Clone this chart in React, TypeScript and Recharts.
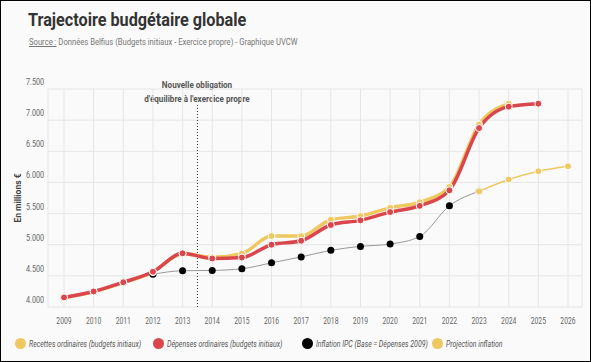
import React from 'react';
import { LineChart, Line, XAxis, YAxis, CartesianGrid, ReferenceLine } from 'recharts';

const years = [2009, 2010, 2011, 2012, 2013, 2014, 2015, 2016, 2017, 2018, 2019, 2020, 2021, 2022, 2023, 2024, 2025, 2026];
const recettes = [4150, 4245, 4390, 4560, 4855, 4800, 4857, 5138, 5138, 5402, 5460, 5592, 5682, 5926, 6931, 7264, null, null];
const depenses = [4154, 4249, 4397, 4566, 4862, 4778, 4794, 5000, 5063, 5317, 5391, 5524, 5624, 5873, 6873, 7217, 7264, null];
const inflation = [4154, 4249, 4397, 4524, 4582, 4587, 4614, 4709, 4804, 4910, 4973, 5011, 5132, 5624, 5857, null, null, null];
const projection = [null, null, null, null, null, null, null, null, null, null, null, null, null, null, 5857, 6047, 6179, 6259];
const yTicks = [4000, 4500, 5000, 5500, 6000, 6500, 7000, 7500];

const data = years.map((year, i) => ({
    year,
    recettes: recettes[i],
    depenses: depenses[i],
    inflation: inflation[i],
    projection: projection[i],
}));

const YELLOW = '#EFC862';
const RED = '#D9474D';
const FONT = 'Roboto, sans-serif';

const legendItems = [
    { color: YELLOW, label: 'Recettes ordinaires (budgets initiaux)', x: 14 },
    { color: RED, label: 'Dépenses ordinaires (budgets initiaux)', x: 152 },
    { color: '#000', label: 'Inflation IPC (Base = Dépenses 2009)', x: 301 },
    { color: YELLOW, label: 'Projection inflation', x: 431 },
];

const fmt = (v: number) => {
    const s = String(v);
    return s.slice(0, 1) + '.' + s.slice(1);
};

// y labels sit left-aligned above their grid line
const YTick = (props: any) => {
    const { y, payload } = props;
    return (
        <text x={25} y={y - 4} fontSize={8.5} fill="#666" fontFamily={FONT} transform={`translate(25 0) scale(0.85 1) translate(-25 0)`}>
            {fmt(payload.value)}
        </text>
    );
};

const XTick = (props: any) => {
    const { x, y, payload } = props;
    return (
        <text x={0} y={0} fontSize={8.5} fill="#666" fontFamily={FONT} textAnchor="middle" transform={`translate(${x} ${y + 9}) scale(0.8 1)`}>
            {payload.value}
        </text>
    );
};

export default function App() {
    return (
        <div style={{ position: 'absolute', left: 0, top: 0, width: 591, height: 362, boxSizing: 'border-box', border: '1px solid #000', background: '#fafafa', fontFamily: FONT, overflow: 'hidden' }}>
            <div style={{ position: 'absolute', left: 27, top: 8, fontSize: 18, fontWeight: 700, color: '#333', whiteSpace: 'nowrap', transform: 'scaleX(0.9)', transformOrigin: 'left' }}>
                Trajectoire budgétaire globale
            </div>
            <div style={{ position: 'absolute', left: 28, top: 36, fontSize: 8.5, color: '#777', whiteSpace: 'nowrap', transform: 'scaleX(0.9)', transformOrigin: 'left' }}>
                <span style={{ textDecoration: 'underline' }}>Source :</span> Données Belfius (Budgets initiaux - Exercice propre) - Graphique UVCW
            </div>
            <div style={{ position: 'absolute', left: 96, width: 200, top: 77, textAlign: 'center', fontSize: 9, fontWeight: 700, color: '#555', lineHeight: '14px', transform: 'scaleX(0.9)', transformOrigin: 'center' }}>
                Nouvelle obligation<br />d'équilibre à l'exercice propre
            </div>
            <div style={{ position: 'absolute', left: 16, top: 197, width: 0, height: 0 }}>
                <div style={{ position: 'absolute', transform: 'translate(-50%, -50%) rotate(-90deg) scaleX(0.9)', whiteSpace: 'nowrap', fontSize: 9.5, fontWeight: 700, color: '#444' }}>
                    En millions €
                </div>
            </div>
            <div style={{ position: 'absolute', left: 0, top: 0 }}>
                <LineChart width={591} height={330} data={data} margin={{ top: 88, right: 10, bottom: 2, left: 0 }}>
                    <CartesianGrid stroke="#e6e6e6" />
                    <XAxis
                        dataKey="year"
                        type="number"
                        domain={[2009, 2026]}
                        ticks={years}
                        interval={0}
                        padding={{ left: 16, right: 14 }}
                        axisLine={false}
                        tickLine={false}
                        tick={<XTick />}
                        height={22}
                    />
                    <YAxis
                        domain={[4000, 7500]}
                        ticks={yTicks}
                        interval={0}
                        width={47}
                        axisLine={false}
                        tickLine={false}
                        tick={<YTick />}
                    />
                    <ReferenceLine
                        segment={[{ x: 2013.5, y: 4000 }, { x: 2013.5, y: 7240 }]}
                        stroke="#333"
                        strokeDasharray="1 2"
                    />
                    <Line type="monotone" dataKey="inflation" stroke="#999" strokeWidth={1} dot={{ r: 3.5, fill: '#000', stroke: '#000', strokeWidth: 0 }} isAnimationActive={false} />
                    <Line type="monotone" dataKey="projection" stroke={YELLOW} strokeWidth={1.5} dot={{ r: 3.5, fill: YELLOW, stroke: '#fff', strokeWidth: 1 }} isAnimationActive={false} />
                    <Line type="monotone" dataKey="recettes" stroke={YELLOW} strokeWidth={3.5} dot={{ r: 3.5, fill: YELLOW, stroke: '#fff', strokeWidth: 1 }} isAnimationActive={false} />
                    <Line type="monotone" dataKey="depenses" stroke={RED} strokeWidth={3.5} dot={{ r: 3.5, fill: RED, stroke: '#fff', strokeWidth: 1 }} isAnimationActive={false} />
                </LineChart>
            </div>
            {legendItems.map((item) => (
                <div key={item.label} style={{ position: 'absolute', left: item.x, top: 337, display: 'flex', alignItems: 'center', whiteSpace: 'nowrap', fontSize: 8.5, fontStyle: 'italic', color: '#555' }}>
                    <span style={{ display: 'inline-block', width: 11, height: 11, borderRadius: '50%', background: item.color, marginRight: 3 }} />
                    <span style={{ display: 'inline-block', transform: 'scaleX(0.82)', transformOrigin: 'left' }}>{item.label}</span>
                </div>
            ))}
        </div>
    );
}
